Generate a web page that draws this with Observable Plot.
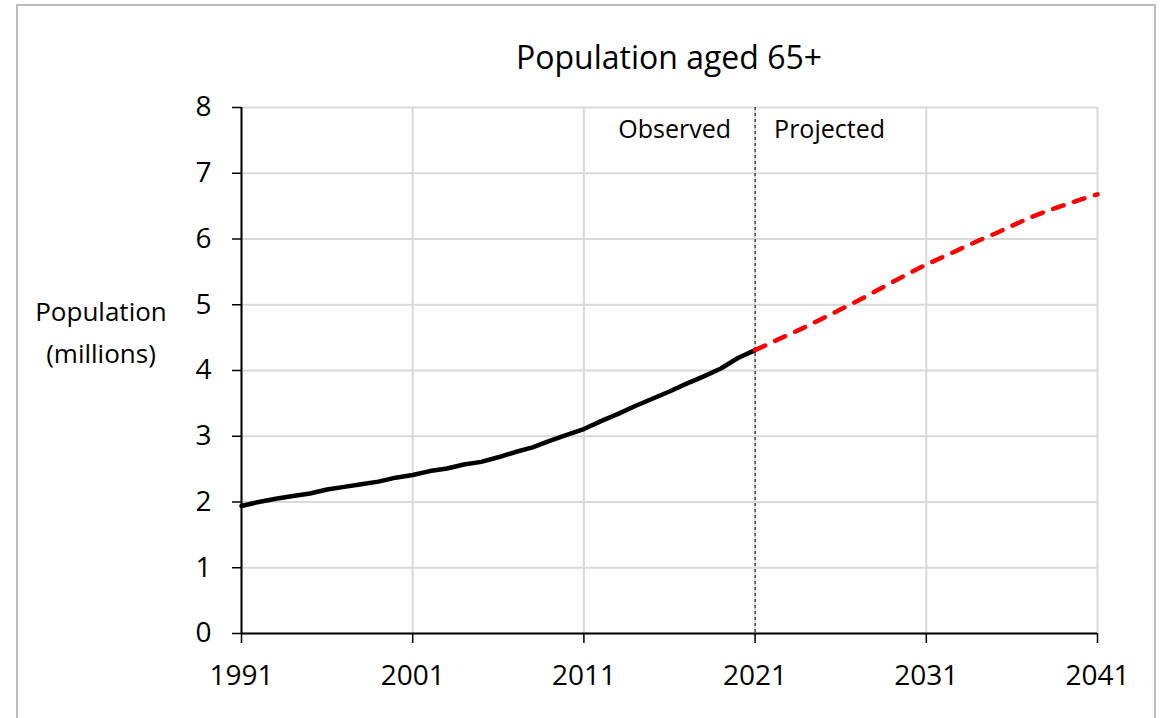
<!DOCTYPE html>
<html>
<head>
<meta charset="utf-8">
<script src="https://cdn.jsdelivr.net/npm/d3@7"></script>
<script src="https://cdn.jsdelivr.net/npm/@observablehq/plot@0.6"></script>
<style>
  html, body { margin: 0; padding: 0; background: #fff; }
  body { width: 1168px; height: 718px; position: relative; overflow: hidden; font-family: "Open Sans", "Noto Sans", sans-serif; }
  #frame { position: absolute; left: 16px; top: 4px; width: 1136px; height: 730px; border: 2px solid #bdbdbd; border-bottom: none; }
  #chart { position: absolute; left: 0; top: 0; }
  #title { position: absolute; left: 419px; width: 500px; top: 35px; text-align: center; font-size: 32px; color: #000; line-height: 44px; }
  #ylabel { position: absolute; left: 1px; width: 200px; top: 290px; text-align: center; font-size: 26px; line-height: 42px; color: #000; }
</style>
</head>
<body>
<div id="frame"></div>
<div id="chart"></div>
<div id="title">Population aged 65+</div>
<div id="ylabel">Population<br>(millions)</div>
<script>
const observedYears = [1991,1992,1993,1994,1995,1996,1997,1998,1999,2000,2001,2002,2003,2004,2005,2006,2007,2008,2009,2010,2011,2012,2013,2014,2015,2016,2017,2018,2019,2020,2021];
const observedValues = [1.94,2.00,2.05,2.09,2.13,2.19,2.23,2.27,2.31,2.37,2.41,2.47,2.51,2.57,2.61,2.68,2.76,2.83,2.93,3.02,3.11,3.23,3.34,3.46,3.57,3.68,3.80,3.91,4.03,4.19,4.31];
const projectedYears = [2021,2022,2023,2024,2025,2026,2027,2028,2029,2030,2031,2032,2033,2034,2035,2036,2037,2038,2039,2040,2041];
const projectedValues = [4.31,4.43,4.55,4.67,4.80,4.93,5.06,5.20,5.34,5.48,5.61,5.73,5.85,5.97,6.08,6.20,6.32,6.42,6.51,6.60,6.68];
const xTicks = [1991,2001,2011,2021,2031,2041];
const yTicks = [0,1,2,3,4,5,6,7,8];
const dividerYear = [2021];
const annotations = ["Observed","Projected"];

const observed = observedYears.map((year, i) => ({year, value: observedValues[i]}));
const projected = projectedYears.map((year, i) => ({year, value: projectedValues[i]}));

const chart = Plot.plot({
  width: 1168,
  height: 718,
  marginLeft: 241,
  marginRight: 71,
  marginTop: 107,
  marginBottom: 85,
  style: { fontFamily: '"Open Sans", "Noto Sans", sans-serif', fontSize: "28px", color: "#000", background: "transparent" },
  x: { domain: [1991, 2041], ticks: xTicks, tickFormat: d => String(d) },
  y: { domain: [0, 8], ticks: yTicks, tickFormat: d => String(d) },
  marks: [
    Plot.gridX(xTicks, { stroke: "#d9d9d9", strokeOpacity: 1, strokeWidth: 2 }),
    Plot.gridY(yTicks, { stroke: "#d9d9d9", strokeOpacity: 1, strokeWidth: 2 }),
    Plot.ruleX(dividerYear, { stroke: "#000", strokeWidth: 1, strokeDasharray: "3,3" }),
    Plot.line(observed, { x: "year", y: "value", stroke: "#000", strokeWidth: 4.5, strokeLinejoin: "round", strokeLinecap: "round" }),
    Plot.line(projected, { x: "year", y: "value", stroke: "#ff0000", strokeWidth: 4.5, strokeDasharray: "11,11", strokeLinecap: "round" }),
    Plot.axisX(xTicks, { tickSize: 10, tickPadding: 22, label: null, tickFormat: d => String(d), stroke: "#000", strokeWidth: 1.5, fontSize: 28 }),
    Plot.axisY(yTicks, { tickSize: 9, tickPadding: 21, label: null, tickFormat: d => String(d), stroke: "#000", strokeWidth: 1.5, fontSize: 28 }),
    Plot.ruleY([0], { stroke: "#000", strokeWidth: 2 }),
    Plot.ruleX([1991], { stroke: "#000", strokeWidth: 2 }),
    Plot.text([annotations[0]], { x: () => 2021, frameAnchor: "top", dy: 22, dx: -24, textAnchor: "end", lineAnchor: "middle", fontSize: 25, fill: "#000" }),
    Plot.text([annotations[1]], { x: () => 2021, frameAnchor: "top", dy: 22, dx: 19, textAnchor: "start", lineAnchor: "middle", fontSize: 25, fill: "#000" })
  ]
});
document.getElementById("chart").appendChild(chart);
</script>
</body>
</html>
